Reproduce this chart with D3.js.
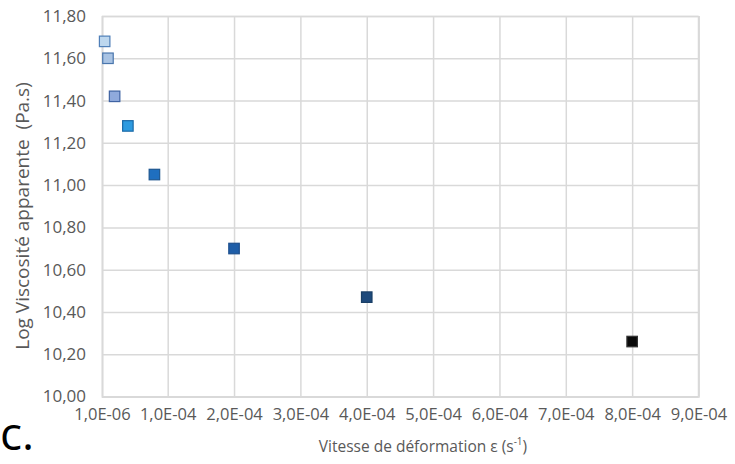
<!DOCTYPE html>
<html>
<head>
<meta charset="utf-8">
<script src="https://cdn.jsdelivr.net/npm/d3@7"></script>
<style>
  html, body { margin: 0; padding: 0; background: #fff; }
  svg { display: block; }
  text { font-family: "Open Sans", "Liberation Sans", sans-serif; }
</style>
</head>
<body>
<svg id="chart" width="735" height="464"></svg>
<script>
// ---- data ----
const strainRates = [5e-6, 1e-5, 2e-5, 4e-5, 8e-5, 2e-4, 4e-4, 8e-4];
const logViscosity = [11.68, 11.60, 11.42, 11.28, 11.05, 10.70, 10.47, 10.26];
const pointFills = ["#bdd7ee", "#a9c3e3", "#8faadc", "#2e9be0", "#1f6fbf", "#1f5ea8", "#1e4a7c", "#0a0a0a"];
const pointStrokes = ["#4f7fb8", "#4a76ad", "#3f63a3", "#1a6aa8", "#1d5690", "#1d4f8d", "#1a3f66", "#333333"];
const xTickValues = [1e-6, 1e-4, 2e-4, 3e-4, 4e-4, 5e-4, 6e-4, 7e-4, 8e-4, 9e-4];
const xTickLabels = ["1,0E-06", "1,0E-04", "2,0E-04", "3,0E-04", "4,0E-04", "5,0E-04", "6,0E-04", "7,0E-04", "8,0E-04", "9,0E-04"];
const yTickValues = [10.0, 10.2, 10.4, 10.6, 10.8, 11.0, 11.2, 11.4, 11.6, 11.8];
const yTickLabels = ["10,00", "10,20", "10,40", "10,60", "10,80", "11,00", "11,20", "11,40", "11,60", "11,80"];
const xTitle = "Vitesse de déformation ε (s";
const yTitle = "Log Viscosité apparente\u00a0 (Pa.s)";
const panelLabel = "c.";

// ---- layout ----
const svg = d3.select("#chart");
const plot = { left: 102, right: 698.5, top: 16, bottom: 396.5 };
const textColor = "#595959";
const gridColor = "#d9d9d9";

const x = d3.scaleLinear().domain([1e-6, 9e-4]).range([plot.left, plot.right]);
const y = d3.scaleLinear().domain([10.0, 11.8]).range([plot.bottom, plot.top]);

// grid
const gx = svg.append("g").attr("transform", `translate(0,${plot.bottom})`)
  .call(d3.axisBottom(x).tickValues(xTickValues).tickSize(-(plot.bottom - plot.top))
    .tickFormat((d, i) => xTickLabels[i]).tickPadding(12));
gx.select(".domain").attr("stroke", gridColor).attr("stroke-width", 1.5);
gx.selectAll(".tick line").attr("stroke", gridColor).attr("stroke-width", 1.5);
gx.selectAll(".tick text").attr("fill", textColor).attr("font-size", "16.5px")
  .attr("font-family", "'Open Sans', sans-serif");

const gy = svg.append("g").attr("transform", `translate(${plot.left},0)`)
  .call(d3.axisLeft(y).tickValues(yTickValues).tickSize(-(plot.right - plot.left))
    .tickFormat((d, i) => yTickLabels[i]).tickPadding(16));
gy.select(".domain").attr("stroke", gridColor).attr("stroke-width", 1.5);
gy.selectAll(".tick line").attr("stroke", gridColor).attr("stroke-width", 1.5);
gy.selectAll(".tick text").attr("fill", textColor).attr("font-size", "17px")
  .attr("font-family", "'Open Sans', sans-serif");

// right border of plot
svg.append("line").attr("x1", plot.right).attr("x2", plot.right)
  .attr("y1", plot.top).attr("y2", plot.bottom).attr("stroke", gridColor).attr("stroke-width", 1.5);

// points
const size = 10.5;
svg.append("g").selectAll("rect").data(strainRates).join("rect")
  .attr("x", (d) => x(d) - size / 2)
  .attr("y", (d, i) => y(logViscosity[i]) - size / 2)
  .attr("width", size).attr("height", size)
  .attr("fill", (d, i) => pointFills[i])
  .attr("stroke", (d, i) => pointStrokes[i])
  .attr("stroke-width", 1.2);

// x title
const xt = svg.append("text").attr("x", 423).attr("y", 452)
  .attr("text-anchor", "middle").attr("fill", textColor).attr("font-size", "15.5px");
xt.append("tspan").text(xTitle);
xt.append("tspan").attr("font-size", "10px").attr("dy", -7).text("-1");
xt.append("tspan").attr("dy", 7).text(")");

// y title
svg.append("text")
  .attr("transform", `translate(29,216) rotate(-90)`)
  .attr("text-anchor", "middle").attr("fill", textColor).attr("font-size", "19px")
  .text(yTitle);

// panel label
svg.append("text").attr("x", 0).attr("y", 450)
  .attr("fill", "#000").attr("font-size", "46px")
  .attr("font-family", "'Open Sans', sans-serif")
  .text(panelLabel);
</script>
</body>
</html>
